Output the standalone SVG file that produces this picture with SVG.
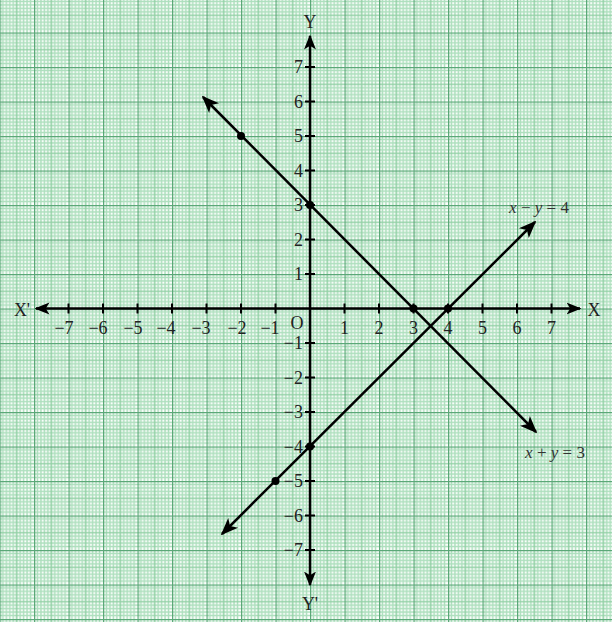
<svg xmlns="http://www.w3.org/2000/svg" width="612" height="622" viewBox="0 0 612 622">
<defs>
<pattern id="grid" patternUnits="userSpaceOnUse" x="-0.5" y="-2" width="34.5" height="34.5">
<rect width="34.5" height="34.5" fill="#ffffff"/>
<path d="M3.45 0V34.5M6.9 0V34.5M10.35 0V34.5M13.8 0V34.5M20.7 0V34.5M24.15 0V34.5M27.6 0V34.5M31.05 0V34.5M0 3.45H34.5M0 6.9H34.5M0 10.35H34.5M0 13.8H34.5M0 20.7H34.5M0 24.15H34.5M0 27.6H34.5M0 31.05H34.5" stroke="#addfbd" stroke-width="1.5" fill="none"/>
<path d="M17.25 0V34.5M0 17.25H34.5" stroke="#93d1a6" stroke-width="1.7" fill="none"/>
<path d="M0.6 0V34.5M0 0.6H34.5" stroke="#5aa877" stroke-width="1.3" fill="none"/>
</pattern>
<marker id="ah" viewBox="0 0 10 10" refX="9" refY="5" markerWidth="6" markerHeight="6" orient="auto-start-reverse" markerUnits="strokeWidth">
<path d="M0 1 L10 5 L0 9 L2.5 5 Z" fill="#000"/>
</marker>
<marker id="ah2" viewBox="0 0 10 10" refX="9" refY="5" markerWidth="7" markerHeight="7" orient="auto-start-reverse" markerUnits="strokeWidth">
<path d="M0 1 L10 5 L0 9 L2.5 5 Z" fill="#000"/>
</marker>
</defs>
<style>
.ax{stroke:#000;stroke-width:2.5;fill:none}
.tk{stroke:#000;stroke-width:2}
.ln{stroke:#000;stroke-width:2.5;fill:none}
.t{font-family:"Liberation Serif",serif;font-size:18px;fill:#222}
.l{font-family:"Liberation Serif",serif;font-size:17px;fill:#333}
.i{font-style:italic}
.dot{fill:#000}
</style>
<rect width="612" height="622" fill="url(#grid)"/>
<g id="axes">
<line class="ax" x1="36" y1="308.5" x2="580" y2="308.5" marker-start="url(#ah)" marker-end="url(#ah)"/>
<line class="ax" x1="310" y1="36" x2="310" y2="585" marker-start="url(#ah)" marker-end="url(#ah)"/>
<path class="tk" d="M68.5 303.5v10M103 303.5v10M137.5 303.5v10M172 303.5v10M206.5 303.5v10M241 303.5v10M275.5 303.5v10M344.5 303.5v10M379 303.5v10M413.5 303.5v10M448 303.5v10M482.5 303.5v10M517 303.5v10M551.5 303.5v10"/>
<path class="tk" d="M305 67h10M305 101.5h10M305 136h10M305 170.5h10M305 205h10M305 239.5h10M305 274h10M305 343h10M305 377.5h10M305 412h10M305 446.5h10M305 481h10M305 515.5h10M305 550h10"/>
</g>
<g id="labels">
<text class="t" x="22" y="316" text-anchor="middle">X'</text>
<text class="t" x="594" y="316" text-anchor="middle">X</text>
<text class="t" x="310" y="28" text-anchor="middle">Y</text>
<text class="t" x="310" y="610" text-anchor="middle">Y'</text>
<text class="t" x="297" y="329" text-anchor="middle">O</text>
<g text-anchor="middle">
<text class="t" x="64" y="334">−7</text>
<text class="t" x="98" y="334">−6</text>
<text class="t" x="133" y="334">−5</text>
<text class="t" x="166" y="334">−4</text>
<text class="t" x="201" y="334">−3</text>
<text class="t" x="237" y="334">−2</text>
<text class="t" x="270" y="334">−1</text>
<text class="t" x="344.5" y="334">1</text>
<text class="t" x="379" y="334">2</text>
<text class="t" x="413.5" y="334">3</text>
<text class="t" x="448" y="334">4</text>
<text class="t" x="482.5" y="334">5</text>
<text class="t" x="517" y="334">6</text>
<text class="t" x="551.5" y="334">7</text>
</g>
<g text-anchor="end">
<text class="t" x="303" y="73">7</text>
<text class="t" x="303" y="107.5">6</text>
<text class="t" x="303" y="142">5</text>
<text class="t" x="303" y="176.5">4</text>
<text class="t" x="303" y="211">3</text>
<text class="t" x="303" y="245.5">2</text>
<text class="t" x="303" y="280">1</text>
<text class="t" x="303" y="349">−1</text>
<text class="t" x="303" y="383.5">−2</text>
<text class="t" x="303" y="418">−3</text>
<text class="t" x="303" y="452.5">−4</text>
<text class="t" x="303" y="487">−5</text>
<text class="t" x="303" y="521.5">−6</text>
<text class="t" x="303" y="556">−7</text>
</g>
<text class="l" x="539" y="213" text-anchor="middle"><tspan class="i">x</tspan> − <tspan class="i">y</tspan> = 4</text>
<text class="l" x="555" y="458" text-anchor="middle"><tspan class="i">x</tspan> + <tspan class="i">y</tspan> = 3</text>
</g>
<g id="connectors">
<line id="line1" class="ln" x1="203" y1="97" x2="536" y2="432" marker-start="url(#ah2)" marker-end="url(#ah2)"/>
<line id="line2" class="ln" x1="222" y1="534" x2="535" y2="222" marker-start="url(#ah2)" marker-end="url(#ah2)"/>
</g>
<g id="points">
<circle class="dot" cx="241" cy="136" r="4"/>
<circle class="dot" cx="310" cy="205" r="4"/>
<circle class="dot" cx="413.5" cy="308.5" r="4"/>
<circle class="dot" cx="448" cy="308.5" r="4"/>
<circle class="dot" cx="310" cy="446.5" r="4"/>
<circle class="dot" cx="275.5" cy="481" r="4"/>
</g>
</svg>
